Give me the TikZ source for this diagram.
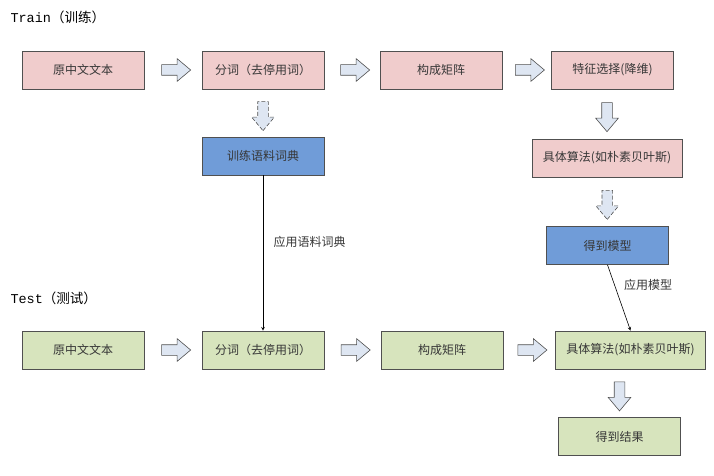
\documentclass[tikz,border=0pt]{standalone}
\usepackage{fontspec}
\setmainfont{Noto Sans CJK SC}
\setmonofont{Liberation Mono}
\usetikzlibrary{shapes.arrows}
\definecolor{trainpink}{RGB}{240,204,204}
\definecolor{testgreen}{RGB}{215,228,189}
\definecolor{dictblue}{RGB}{112,156,216}
\definecolor{arrowfill}{RGB}{222,230,242}
\definecolor{edgegray}{RGB}{80,80,80}
\definecolor{txtgray}{RGB}{55,55,55}

\begin{document}
\begin{tikzpicture}[x=1pt, y=-1pt,
  box/.style={draw=edgegray, line width=0.8pt, minimum width=122pt, minimum height=38pt, inner sep=0pt, font=\fontsize{12}{14}\selectfont, text=txtgray},
  widebox/.style={minimum width=150pt},
  train/.style={box, fill=trainpink},
  test/.style={box, fill=testgreen},
  learnt/.style={box, fill=dictblue},
  blockarrow/.style={single arrow, draw=edgegray, fill=arrowfill, line width=0.6pt, minimum height=29pt, minimum width=22pt, single arrow head extend=6pt, single arrow tip angle=80, inner xsep=0pt, inner ysep=5pt},
  downarrow/.style={blockarrow, rotate=-90},
  ghost/.style={dash pattern=on 4pt off 2pt},
  arrow/.style={->, >=stealth, line width=0.6pt},
  lbl/.style={font=\fontsize{12}{14}\selectfont, text=txtgray},
  title/.style={font=\fontsize{13.5}{15}\selectfont, anchor=west}
]

\useasboundingbox (0,0) rectangle (714,476);

% Train row
\node[title] (traint) at (7,17) {\texttt{Train}（训练）};
\node[train] (o1) at (83,70) {原中文文本};
\node[train] (s1) at (263,70) {分词（去停用词）};
\node[train] (m1) at (441,70) {构成矩阵};
\node[train] (f1) at (612.5,70) {特征选择(降维)};
\node[learnt] (dict) at (263,156) {训练语料词典};
\node[train, widebox] (a1) at (607,158) {具体算法(如朴素贝叶斯)};
\node[learnt] (model) at (607.5,245.5) {得到模型};

% Test row
\node[title] (testt) at (7,298) {\texttt{Test}（测试）};
\node[test] (o2) at (83,350) {原中文文本};
\node[test] (s2) at (263,350) {分词（去停用词）};
\node[test] (m2) at (442,350) {构成矩阵};
\node[test, widebox] (a2) at (630.5,350) {具体算法(如朴素贝叶斯)};
\node[test] (res) at (619.5,436.5) {得到结果};

% Block arrows, train
\path (o1) -- node[blockarrow] {} (s1);
\path (s1) -- node[blockarrow] {} (m1);
\path (m1) -- node[blockarrow] {} (f1);
\path (s1) -- node[downarrow, ghost] {} (dict);
\path (a1.north |- f1.south) -- node[downarrow] {} (a1.north);
\path (a1) -- node[downarrow, ghost] {} (model);

% Block arrows, test
\path (o2) -- node[blockarrow] {} (s2);
\path (s2) -- node[blockarrow] {} (m2);
\path (m2) -- node[blockarrow] {} (a2);
\path (res.north |- a2.south) -- node[downarrow] {} (res.north);

% What training hands over to testing
\draw[arrow] (dict) -- node[lbl, right=7pt, pos=0.43] {应用语料词典} (s2);
\draw[arrow] (model.south) -- node[lbl, right=6pt, pos=0.3] {应用模型} (a2.north);

\end{tikzpicture}
\end{document}
